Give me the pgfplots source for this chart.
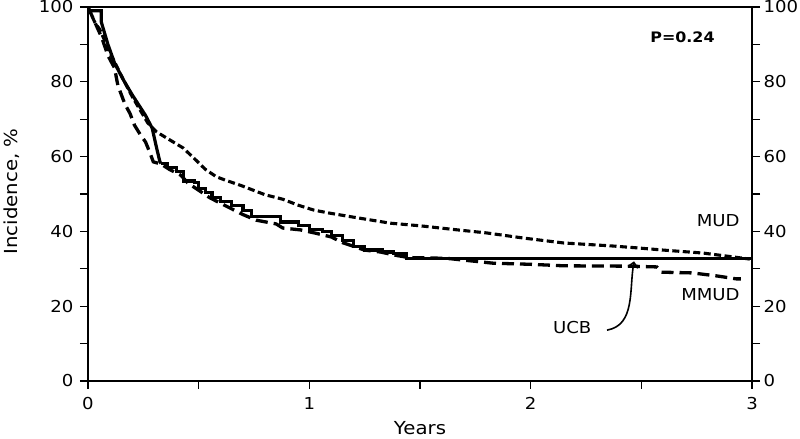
\documentclass[border=0pt]{standalone}
\usepackage{fontspec}
\setmainfont{DejaVu Sans}[FakeStretch=1.1]
\usepackage{pgfplots}
\pgfplotsset{compat=1.18}
\usetikzlibrary{arrows.meta}

\pgfplotstableread{
x y
0 99
0.06 99
0.06 96
0.09 90
0.12 85
0.16 80.5
0.20 76.5
0.26 71
0.29 67.6
0.31 62.3
0.325 58.6
0.33 58.2
}\ucbA

\pgfplotstableread{
x y
0.33 58.2
0.36 57
0.40 56
0.43 53.5
0.48 53
0.50 51.5
0.53 50.5
0.56 49
0.60 48
0.65 47
0.70 45.5
0.74 44
0.87 42.5
0.95 41.5
1.00 40.5
1.06 40
1.10 39
1.15 37.5
1.20 36
1.25 35
1.33 34.5
1.38 34
1.44 32.7
3.0 32.7
}\ucbB

\pgfplotstableread{
x y
0 100
0.063 91.7
0.09 87
0.12 83.7
0.135 79
0.167 74
0.19 71.5
0.21 68.4
0.235 66
0.26 63.9
0.28 61
0.295 58.6
0.33 58
0.37 56.5
0.42 55
0.45 53
0.50 51
0.55 49
0.60 47.5
0.65 46
0.70 44.5
0.76 43
0.85 42
0.88 40.9
0.96 40.4
1.03 39.5
1.10 38.5
1.15 37
1.20 36
1.25 35
1.32 34.5
1.40 33.5
1.45 33
1.62 32.8
1.75 32
1.83 31.5
2.00 31.2
2.15 30.8
2.45 30.7
2.57 30.5
2.59 29.1
2.73 28.9
2.84 28.1
2.93 27.3
2.95 27.3
}\mmud

\pgfplotstableread{
x y
0 100
0.03 96
0.054 93.9
0.10 87.7
0.145 82.3
0.20 76
0.235 72.5
0.27 69
0.31 66.6
0.36 64.8
0.43 62.3
0.48 59.5
0.53 56.6
0.58 54.6
0.63 53.5
0.69 52.3
0.80 49.8
0.88 48.6
0.95 47
1.02 45.7
1.09 44.9
1.20 43.8
1.365 42.2
1.50 41.5
1.67 40.4
1.80 39.6
1.97 38.2
2.15 36.9
2.37 36.1
2.48 35.6
2.60 35
2.78 34.2
2.99 32.6
}\mud

\begin{document}
\begin{tikzpicture}
\pgfplotsset{
  common/.style={
    scale only axis, width=664bp, height=374bp,
    xmin=0, xmax=3, ymin=0, ymax=100,
    axis line style={line width=1.3bp, black},
    tick style={line width=1.3bp, black},
    tick align=outside,
    major tick length=8bp,
    /pgf/number format/assume math mode=true,
    ticklabel style={font=\fontsize{16.5}{20}\selectfont},
    ytick={0,10,...,100},
    yticklabels={0,,20,,40,,60,,80,,100},
  }
}
\begin{axis}[common,
  xtick={0,0.5,...,3}, xticklabels={0,,1,,2,,3},
  xtick pos=left, ytick pos=left,
  xticklabel style={yshift=-5bp},
  yticklabel style={xshift=-3bp},
]
\addplot[sharp plot, line width=3.2bp, black] table {\ucbA};
\addplot[const plot, line width=3.2bp, black] table {\ucbB};
\addplot[sharp plot, line width=3.3bp, black, dash pattern=on 12bp off 6bp] table {\mmud};
\addplot[sharp plot, line width=3.1bp, black, dash pattern=on 7bp off 3.5bp] table {\mud};
\node[font=\bfseries\fontsize{14.5}{17}\selectfont] at (axis cs:2.686,91.8) {P=0.24};
\node[anchor=east, font=\fontsize{16.5}{20}\selectfont] at (axis cs:2.96,43) {MUD};
\node[anchor=east, font=\fontsize{16.5}{20}\selectfont] at (axis cs:2.96,23) {MMUD};
\node[anchor=east, font=\fontsize{16.5}{20}\selectfont] at (axis cs:2.29,14.2) {UCB};
\draw[line width=1.6bp, -{Straight Barb[length=5bp,width=10bp]}] (axis cs:2.345,13.6) to[out=10,in=-100] (axis cs:2.467,32.0);
\coordinate (sw) at (rel axis cs:0,0);
\coordinate (ne) at (rel axis cs:1,1);
\coordinate (yl) at (rel axis cs:0,0.507);
\coordinate (xl) at (rel axis cs:0.5,0);
\end{axis}
\begin{axis}[common,
  hide x axis, axis y line*=right,
]
\end{axis}
\node[rotate=90, font=\fontsize{18}{21}\selectfont] at ([xshift=-76bp]yl) {Incidence, \%};
\node[font=\fontsize{18}{21}\selectfont] at ([yshift=-47bp]xl) {Years};
\pgfresetboundingbox
\path[use as bounding box] ([shift={(-88bp,-58bp)}]sw) rectangle ([shift={(48bp,7bp)}]ne);
\end{tikzpicture}
\end{document}
